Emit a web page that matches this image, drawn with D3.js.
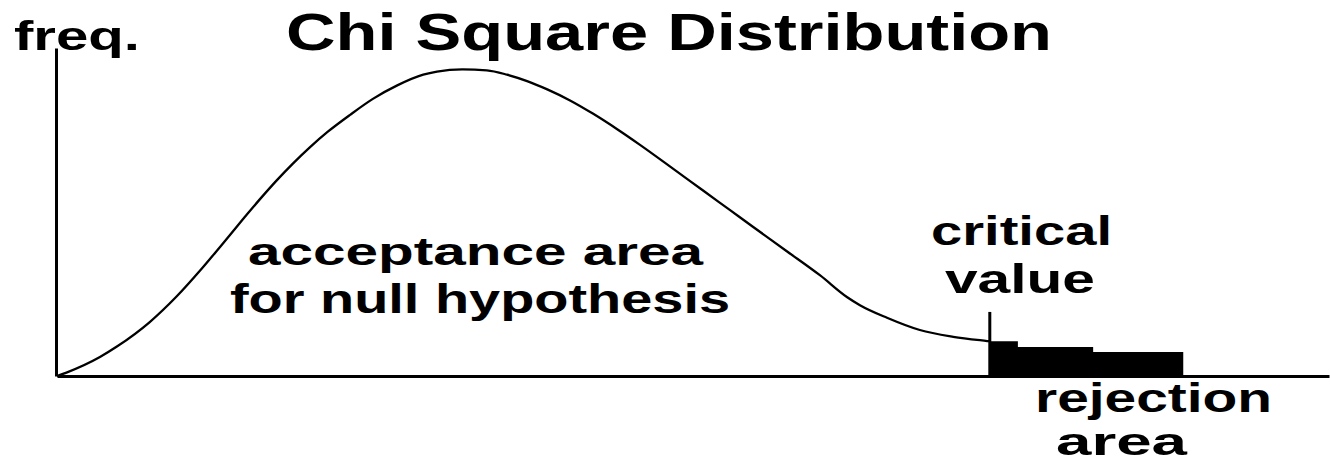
<!DOCTYPE html>
<html>
<head>
<meta charset="utf-8">
<script src="https://cdn.jsdelivr.net/npm/d3@7"></script>
<style>
    body { margin: 0; background: #fff; }
    svg text { font-family: "Liberation Sans", Arial, sans-serif; font-weight: bold; fill: #000; }
</style>
</head>
<body>
<svg id="chart" width="1330" height="462"></svg>
<script>
// curve (x = chi value, y = relative frequency)
var curveX = [0, 0.19, 0.81, 1.13, 1.75, 2.26, 2.7, 3.08, 3.55, 3.83, 4.15, 4.45, 4.77, 5.11, 5.53, 5.96, 6.42, 6.91, 7.17, 7.65,
              8.11, 8.49, 8.87, 9.25, 9.68, 10.11, 10.57, 11.0, 11.57, 12.19, 12.7, 13.13, 13.77, 14.4, 14.91, 15.15, 15.66,
              16.28, 16.91, 17.55, 17.6];
var curveY = [0, 1.2, 6.2, 9.6, 17.6, 26.0, 34.4, 42.2, 52.0, 57.7, 63.9, 69.3, 74.6, 79.7, 85.2, 90.4, 94.8, 98.3, 99.3, 100,
              99.7, 98.3, 96.2, 93.5, 89.9, 85.6, 80.5, 75.4, 68.3, 60.5, 54.1, 48.7, 40.7, 32.8, 25.7, 23.1, 19.0,
              15.0, 12.8, 11.4, 11.3];

// shaded tail beyond the critical value
var rejectionX = [17.6, 18.13, 19.55, 21.25];
var rejectionY = [11.3, 9.5, 7.8, 7.8];

var criticalValue = 17.6;
var criticalMarkTop = 20.9;

var titleText = "Chi Square Distribution";
var yLabel = "freq.";
var acceptanceLines = ["acceptance area", "for null hypothesis"];
var criticalLines = ["critical", "value"];
var rejectionLines = ["rejection", "area"];

var svg = d3.select("#chart");

var x = d3.scaleLinear().domain([0, 24]).range([57, 1329]);
var y = d3.scaleLinear().domain([0, 107]).range([376, 48]);

function drawAxes() {
    var xAxis = d3.axisBottom(x).ticks(0).tickSize(0).tickSizeOuter(0);
    var yAxis = d3.axisLeft(y).ticks(0).tickSize(0).tickSizeOuter(0);

    svg.append("g")
        .attr("transform", "translate(0," + y(0) + ")")
        .call(xAxis)
        .select(".domain").attr("stroke", "#000").attr("stroke-width", 3);

    svg.append("g")
        .attr("transform", "translate(" + (x(0) - 1) + ",0)")
        .call(yAxis)
        .select(".domain").attr("stroke", "#000").attr("stroke-width", 3);
}

function drawCurve() {
    var points = curveX.map(function (d, i) { return [d, curveY[i]]; });
    var line = d3.line()
        .x(function (d) { return x(d[0]); })
        .y(function (d) { return y(d[1]); })
        .curve(d3.curveMonotoneX);

    svg.append("path")
        .datum(points)
        .attr("d", line)
        .attr("fill", "none")
        .attr("stroke", "#000")
        .attr("stroke-width", 2.3);
}

function drawRejection() {
    var points = rejectionX.map(function (d, i) { return [d, rejectionY[i]]; });
    var area = d3.area()
        .x(function (d) { return x(d[0]); })
        .y0(y(0))
        .y1(function (d) { return y(d[1]); })
        .curve(d3.curveStepAfter);

    svg.append("path")
        .datum(points)
        .attr("d", area)
        .attr("fill", "#000");

    // critical value marker
    svg.append("line")
        .attr("x1", x(criticalValue)).attr("x2", x(criticalValue))
        .attr("y1", y(criticalMarkTop)).attr("y2", y(0))
        .attr("stroke", "#000")
        .attr("stroke-width", 3);
}

// stretched bold lettering like the scanned original
function label(txt, left, baseline, width, size) {
    svg.append("text")
        .attr("x", left)
        .attr("y", baseline)
        .attr("font-size", size)
        .attr("textLength", width)
        .attr("lengthAdjust", "spacingAndGlyphs")
        .text(txt);
}

function drawLabels() {
    label(yLabel, 14, 50, 126, 41);
    label(titleText, 286, 50, 766, 52);
    label(acceptanceLines[0], 248, 265, 455, 39);
    label(acceptanceLines[1], 230, 313, 500, 40);
    label(criticalLines[0], 931, 245, 181, 40);
    label(criticalLines[1], 945, 293, 150, 40);
    label(rejectionLines[0], 1035, 412, 237, 40);
    label(rejectionLines[1], 1056, 455, 131, 38);
}

drawAxes();
drawRejection();
drawCurve();
drawLabels();
</script>
</body>
</html>
